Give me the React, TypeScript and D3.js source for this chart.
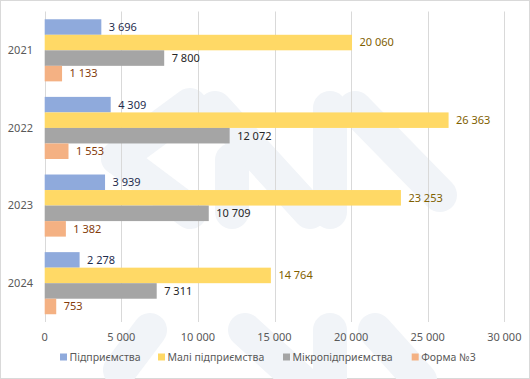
import React from "react";
import * as d3 from "d3";

const years = ["2021", "2022", "2023", "2024"];
const seriesNames = ["Підприємства", "Малі підприємства", "Мікропідприємства", "Форма №3"];
const enterprises = [3696, 4309, 3939, 2278];
const smallEnterprises = [20060, 26363, 23253, 14764];
const microEnterprises = [7800, 12072, 10709, 7311];
const form3 = [1133, 1553, 1382, 753];
const xTicks = [0, 5000, 10000, 15000, 20000, 25000, 30000];

const seriesValues = [enterprises, smallEnterprises, microEnterprises, form3];
const barColors = ["#8FAADC", "#FFD966", "#A5A5A5", "#F4B183"];
const labelColors = ["#1F2D4E", "#7F6000", "#262626", "#843C0C"];

const W = 530;
const H = 379;
const FONT = "'Noto Sans', 'Open Sans', sans-serif";

const fmt = (v: number) => d3.format(",")(v).replace(/,/g, " ");

// decorative faint watermark strokes (background logo)
const watermark: [number, number, number, number][] = [
  [190, 105, 118, 158],
  [118, 158, 190, 212],
  [232, 160, 232, 212],
  [215, 108, 310, 212],
  [330, 108, 330, 212],
  [355, 108, 440, 195],
  [150, 330, 120, 370],
  [245, 330, 300, 380],
  [330, 330, 330, 380],
  [375, 330, 420, 380],
];

export default function App() {
  const left = 44.7;
  const right = 504.3;
  const top = 11.5;
  const bottom = 322;

  const x = d3.scaleLinear().domain([0, 30000]).range([left, right]);
  const y = d3
    .scaleBand<string>()
    .domain(years)
    .range([top, bottom])
    .paddingInner(0.2)
    .paddingOuter(0.1);
  const sub = d3
    .scaleBand<number>()
    .domain(seriesNames.map((_, i) => i))
    .range([0, y.bandwidth()]);

  const legendX = [60, 158, 283, 411.7];

  return (
    <svg
      width={W}
      height={H}
      style={{ position: "absolute", left: 0, top: 0, background: "#fff" }}
      fontFamily={FONT}
    >
      <rect x={0.5} y={0.5} width={W - 1} height={H - 1} fill="#fff" stroke="#D9D9D9" />
      <g stroke="#F1F4F8" strokeWidth={34} strokeLinecap="round" fill="none">
        {watermark.map((s, i) => (
          <line key={i} x1={s[0]} y1={s[1]} x2={s[2]} y2={s[3]} />
        ))}
      </g>
      {xTicks.map((t) => (
        <line
          key={"g" + t}
          x1={Math.round(x(t)) + 0.5}
          x2={Math.round(x(t)) + 0.5}
          y1={top}
          y2={bottom}
          stroke="#D9D9D9"
          strokeWidth={1}
        />
      ))}
      {years.map((yr, yi) => (
        <g key={yr}>
          {seriesValues.map((vals, si) => {
            const by = (y(yr) as number) + (sub(si) as number);
            const bh = sub.bandwidth();
            return (
              <g key={si}>
                <rect
                  x={x(0)}
                  y={by}
                  width={x(vals[yi]) - x(0)}
                  height={bh}
                  fill={barColors[si]}
                />
                <text
                  x={x(vals[yi]) + 7.5}
                  y={by + bh / 2}
                  dy="0.35em"
                  fontSize={11}
                  fill={labelColors[si]}
                >
                  {fmt(vals[yi])}
                </text>
              </g>
            );
          })}
          <text
            x={33}
            y={(y(yr) as number) + y.bandwidth() / 2}
            dy="0.35em"
            textAnchor="end"
            fontSize={11}
            fill="#595959"
          >
            {yr}
          </text>
        </g>
      ))}
      {xTicks.map((t) => (
        <text
          key={"t" + t}
          x={x(t)}
          y={337}
          dy="0.35em"
          textAnchor="middle"
          fontSize={11}
          fill="#595959"
        >
          {fmt(t)}
        </text>
      ))}
      {seriesNames.map((n, i) => (
        <g key={n}>
          <rect x={legendX[i]} y={353.5} width={7} height={7} fill={barColors[i]} />
          <text x={legendX[i] + 9.5} y={357} dy="0.35em" fontSize={10.5} fill="#595959">
            {n}
          </text>
        </g>
      ))}
    </svg>
  );
}
